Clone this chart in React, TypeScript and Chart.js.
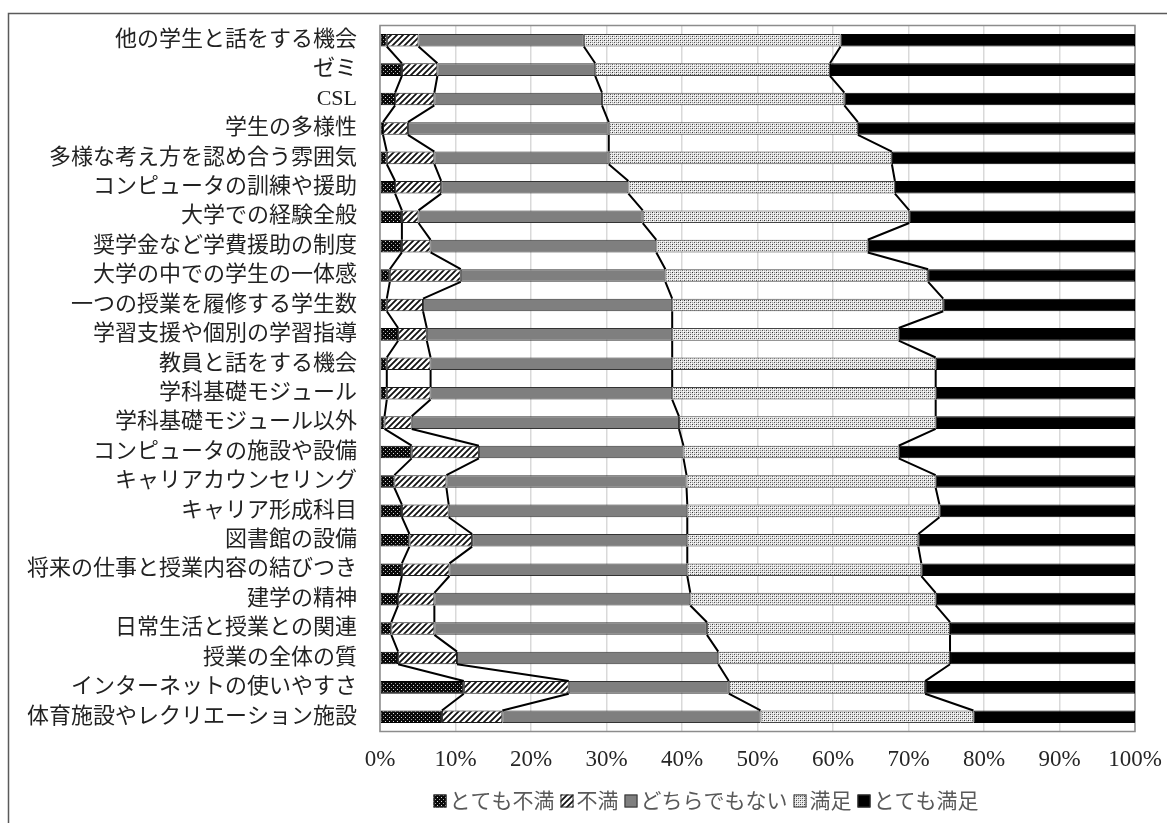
import { useEffect, useRef } from 'react';
import { Chart, registerables } from 'chart.js';

Chart.register(...registerables);

const categories = [
  '他の学生と話をする機会',
  'ゼミ',
  'CSL',
  '学生の多様性',
  '多様な考え方を認め合う雰囲気',
  'コンピュータの訓練や援助',
  '大学での経験全般',
  '奨学金など学費援助の制度',
  '大学の中での学生の一体感',
  '一つの授業を履修する学生数',
  '学習支援や個別の学習指導',
  '教員と話をする機会',
  '学科基礎モジュール',
  '学科基礎モジュール以外',
  'コンピュータの施設や設備',
  'キャリアカウンセリング',
  'キャリア形成科目',
  '図書館の設備',
  '将来の仕事と授業内容の結びつき',
  '建学の精神',
  '日常生活と授業との関連',
  '授業の全体の質',
  'インターネットの使いやすさ',
  '体育施設やレクリエーション施設',
];

const seriesNames = ['とても不満', '不満', 'どちらでもない', '満足', 'とても満足'];

const veryDissatisfied = [0.9, 2.9, 2.0, 0.4, 0.9, 2.0, 2.9, 2.9, 1.3, 0.9, 2.4, 0.9, 0.9, 0.6, 4.2, 1.9, 2.9, 3.9, 2.9, 2.4, 1.5, 2.4, 11.1, 8.2];
const dissatisfied = [4.2, 4.7, 5.2, 3.3, 6.3, 6.1, 2.2, 3.8, 9.4, 4.8, 3.8, 5.8, 5.8, 3.6, 8.9, 6.9, 6.2, 8.3, 6.3, 4.8, 5.7, 7.8, 13.9, 8.0];
const neutral = [21.9, 20.9, 22.2, 26.6, 23.1, 24.8, 29.7, 29.9, 27.1, 33.0, 32.5, 32.0, 32.0, 35.4, 27.1, 31.8, 31.6, 28.5, 31.5, 33.9, 36.1, 34.6, 21.2, 34.2];
const satisfied = [34.0, 31.1, 32.1, 33.0, 37.5, 35.3, 35.3, 28.0, 34.8, 35.9, 30.0, 34.9, 34.9, 34.0, 28.5, 33.0, 33.4, 30.6, 31.0, 32.5, 32.2, 30.7, 26.0, 28.2];
const verySatisfied = [39.0, 40.4, 38.5, 36.7, 32.2, 31.8, 29.9, 35.4, 27.4, 25.4, 31.3, 26.4, 26.4, 26.4, 31.3, 26.4, 25.9, 28.7, 28.3, 26.4, 24.5, 24.5, 27.8, 21.4];

const xTicks = [0, 10, 20, 30, 40, 50, 60, 70, 80, 90, 100];

const FONT = '"Liberation Serif", "Noto Sans CJK JP", serif';

function makeTile(size: number, draw: (c: CanvasRenderingContext2D) => void) {
  const c = document.createElement('canvas');
  c.width = size;
  c.height = size;
  const g = c.getContext('2d')!;
  draw(g);
  return c;
}

function makePatterns(ctx: CanvasRenderingContext2D) {
  const px = (g: CanvasRenderingContext2D, x: number, y: number, col: string) => {
    g.fillStyle = col;
    g.fillRect(x, y, 1, 1);
  };
  const vd = makeTile(4, (g) => {
    g.fillStyle = '#0a0a0a';
    g.fillRect(0, 0, 4, 4);
    px(g, 1, 1, '#e0e0e0');
    px(g, 3, 3, '#a0a0a0');
  });
  const d = makeTile(6, (g) => {
    g.fillStyle = '#ffffff';
    g.fillRect(0, 0, 6, 6);
    g.strokeStyle = '#111';
    g.lineWidth = 1.8;
    g.beginPath();
    g.moveTo(-1, 7);
    g.lineTo(7, -1);
    g.moveTo(-4, 4);
    g.lineTo(4, -4);
    g.moveTo(2, 10);
    g.lineTo(10, 2);
    g.stroke();
  });
  const s = makeTile(4, (g) => {
    g.fillStyle = '#e4e4e4';
    g.fillRect(0, 0, 4, 4);
    px(g, 0, 0, '#333');
    px(g, 2, 2, '#555');
    px(g, 2, 0, '#999');
    px(g, 0, 2, '#999');
    px(g, 1, 1, '#fff');
    px(g, 3, 3, '#fff');
  });
  return {
    vd: ctx.createPattern(vd, 'repeat')!,
    d: ctx.createPattern(d, 'repeat')!,
    s: ctx.createPattern(s, 'repeat')!,
  };
}

export default function App() {
  const ref = useRef<HTMLCanvasElement>(null);

  useEffect(() => {
    const canvas = ref.current!;
    const ctx = canvas.getContext('2d')!;
    const p = makePatterns(ctx);
    const fills: any[] = [p.vd, p.d, '#7f7f7f', p.s, '#000000'];
    const borders = ['#000000', '#1a1a1a', '#333333', '#444444', '#000000'];
    const values = [veryDissatisfied, dissatisfied, neutral, satisfied, verySatisfied];

    const frame = {
      id: 'frame',
      beforeDraw(c: any) {
        const g = c.ctx;
        g.save();
        g.fillStyle = '#ffffff';
        g.fillRect(0, 0, c.width, c.height);
        g.strokeStyle = '#5a5a5a';
        g.lineWidth = 1.5;
        g.beginPath();
        g.moveTo(8.5, 823);
        g.lineTo(8.5, 13.5);
        g.lineTo(1167, 13.5);
        g.stroke();
        g.restore();
      },
    };

    const plotBorder = {
      id: 'plotBorder',
      beforeDatasetsDraw(c: any) {
        const a = c.chartArea;
        const g = c.ctx;
        g.save();
        g.strokeStyle = '#8c8c8c';
        g.lineWidth = 1.5;
        g.strokeRect(a.left, a.top, a.right - a.left, a.bottom - a.top);
        g.restore();
      },
    };

    const seriesLines = {
      id: 'seriesLines',
      afterDatasetsDraw(c: any) {
        const g = c.ctx;
        g.save();
        g.strokeStyle = '#000';
        g.lineWidth = 2;
        g.lineJoin = 'round';
        for (let d = 0; d < 4; d++) {
          const meta = c.getDatasetMeta(d);
          g.beginPath();
          for (let k = 0; k < meta.data.length - 1; k++) {
            const a: any = meta.data[k];
            const b: any = meta.data[k + 1];
            g.moveTo(a.x, a.y + a.height / 2);
            g.lineTo(b.x, b.y - b.height / 2);
          }
          g.stroke();
        }
        g.restore();
      },
    };

    const legend = {
      id: 'customLegend',
      afterDraw(c: any) {
        const g = c.ctx;
        g.save();
        g.font = `21px ${FONT}`;
        g.textBaseline = 'middle';
        const box = 13;
        const gapBox = 3;
        const gapItem = 6;
        const widths = seriesNames.map((n) => g.measureText(n).width);
        const total = widths.reduce((s, w) => s + box + gapBox + w, 0) + gapItem * (seriesNames.length - 1);
        let x = 706 - total / 2;
        const y = 801;
        seriesNames.forEach((n, i) => {
          g.fillStyle = fills[i];
          g.fillRect(x, y - box / 2, box, box);
          g.strokeStyle = '#333';
          g.lineWidth = 1;
          g.strokeRect(x + 0.5, y - box / 2 + 0.5, box - 1, box - 1);
          x += box + gapBox;
          g.fillStyle = '#595959';
          g.fillText(n, x, y + 1);
          x += widths[i] + gapItem;
        });
        g.restore();
      },
    };

    const chart = new Chart(ctx, {
      type: 'bar',
      data: {
        labels: categories,
        datasets: seriesNames.map((name, i) => ({
          label: name,
          data: values[i],
          backgroundColor: fills[i],
          borderColor: borders[i],
          borderWidth: 1,
          borderSkipped: false,
          barPercentage: 0.43,
          categoryPercentage: 1,
        })),
      },
      options: {
        animation: false,
        responsive: false,
        devicePixelRatio: 1,
        indexAxis: 'y',
        layout: { padding: { left: 0, right: 32, top: 25.5, bottom: 0 } },
        plugins: {
          legend: { display: false },
          tooltip: { enabled: false },
        },
        scales: {
          x: {
            stacked: true,
            min: 0,
            max: 100,
            afterBuildTicks: (s: any) => {
              s.ticks = xTicks.map((v) => ({ value: v }));
            },
            ticks: {
              callback: (v: any) => `${v}%`,
              font: { family: FONT, size: 23 },
              color: '#262626',
              padding: 15,
              maxRotation: 0,
            },
            grid: { color: '#d9d9d9', lineWidth: 1.5, drawTicks: false },
            border: { display: false },
            afterFit: (s: any) => {
              s.height = 91.5;
              s.paddingLeft = 0;
              s.paddingRight = 0;
            },
          },
          y: {
            stacked: true,
            ticks: {
              autoSkip: false,
              font: { family: FONT, size: 22 },
              color: '#222222',
              padding: 23,
            },
            grid: { display: false, drawTicks: false },
            border: { display: false },
            afterFit: (s: any) => {
              s.width = 380;
              s.paddingTop = 0;
              s.paddingBottom = 0;
            },
          },
        },
      } as any,
      plugins: [frame, plotBorder, seriesLines, legend],
    });

    return () => chart.destroy();
  }, []);

  return (
    <div style={{ position: 'fixed', left: 0, top: 0, width: 1167, height: 823, background: '#fff' }}>
      <canvas ref={ref} width={1167} height={823} style={{ display: 'block' }} />
    </div>
  );
}
